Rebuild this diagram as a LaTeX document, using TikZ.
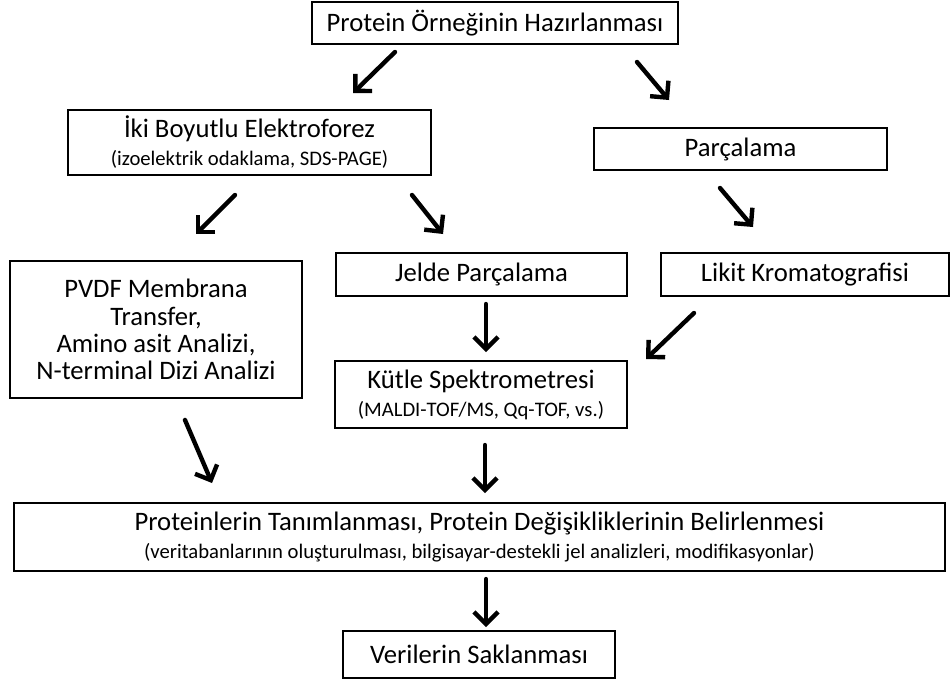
\documentclass[tikz,border=0pt]{standalone}
\usepackage{fontspec}
\setmainfont{Carlito}
\usepackage{tikz}
\usetikzlibrary{arrows.meta}
\newcommand{\bigtxt}{\fontsize{20}{20.5}\selectfont}
\newcommand{\smalltxt}{\fontsize{15.5}{18}\selectfont}

\begin{document}
\begin{tikzpicture}[x=0.75pt, y=-0.75pt, >={Straight Barb[length=9pt,width=18pt]}]
	\tikzset{box/.style={draw, line width=1.1pt, align=center, inner sep=0pt, font=\bigtxt},
		arr/.style={->, line width=3.3pt, line cap=round}}
	%Rahmen
	\useasboundingbox (0,0) rectangle (950,686);
	% Kutular
	\node[box, minimum width=274.5pt, minimum height=31.5pt] (prep) at (495,23) {Protein Örneğinin Hazırlanması};
	\node[box, minimum width=272.25pt, minimum height=48.75pt] (iki) at (249.5,142.5) {İki Boyutlu Elektroforez\\[0.5pt]{\smalltxt (izoelektrik odaklama, SDS-PAGE)}};
	\node[box, minimum width=219.75pt, minimum height=31.5pt] (parc) at (740.5,149) {Parçalama};
	\node[box, minimum width=219pt, minimum height=102.75pt] (pvdf) at (156,329.5) {PVDF Membrana\\Transfer,\\Amino asit Analizi,\\N-terminal Dizi Analizi};
	\node[box, minimum width=218.25pt, minimum height=32.25pt] (jelde) at (481.5,274.5) {Jelde Parçalama};
	\node[box, minimum width=216pt, minimum height=32.25pt] (likit) at (805,274.5) {Likit Kromatografisi};
	\node[box, minimum width=219pt, minimum height=50.25pt] (kutle) at (481,394.5) {Kütle Spektrometresi\\[0.5pt]{\smalltxt (MALDI-TOF/MS, Qq-TOF, vs.)}};
	\node[box, minimum width=698.25pt, minimum height=51pt] (tanim) at (479.5,537) {Proteinlerin Tanımlanması, Protein Değişikliklerinin Belirlenmesi\\[0.5pt]{\smalltxt (veritabanlarının oluşturulması, bilgisayar-destekli jel analizleri, modifikasyonlar)}};
	\node[box, minimum width=204pt, minimum height=35.25pt] (veri) at (479,654.5) {Verilerin Saklanması};
	% Ok uclari
	\coordinate (p1) at (395,52);  \coordinate (q1) at (353,93);
	\coordinate (p2) at (637,62);  \coordinate (q2) at (669,100);
	\coordinate (p3) at (235,195); \coordinate (q3) at (196,234);
	\coordinate (p4) at (412,195); \coordinate (q4) at (443,234);
	\coordinate (p5) at (720,188); \coordinate (q5) at (753,227);
	\coordinate (p6) at (486,304); \coordinate (q6) at (486,352);
	\coordinate (p7) at (694,313); \coordinate (q7) at (646,359);
	\coordinate (p8) at (185,420); \coordinate (q8) at (212,483);
	\coordinate (p9) at (485,445); \coordinate (q9) at (485,493);
	\coordinate (p10) at (486,579); \coordinate (q10) at (486,627);
	% Oklar
	\foreach \i in {1,...,10} \draw[arr] (p\i) -- (q\i);
\end{tikzpicture}
\end{document}
